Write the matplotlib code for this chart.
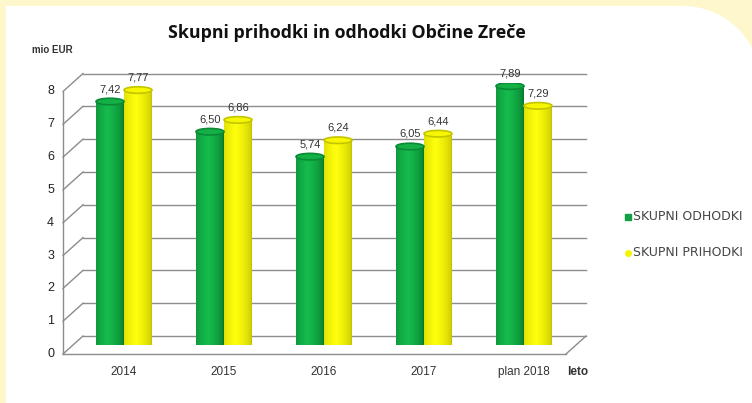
import numpy as np
import matplotlib
matplotlib.use("Agg")
import matplotlib.pyplot as plt
from matplotlib.patches import Ellipse, PathPatch
from matplotlib.path import Path
from matplotlib.lines import Line2D

# ---- data ----
categories = ["2014", "2015", "2016", "2017", "plan 2018"]
odhodki = [7.42, 6.50, 5.74, 6.05, 7.89]      # SKUPNI ODHODKI (green)
prihodki = [7.77, 6.86, 6.24, 6.44, 7.29]     # SKUPNI PRIHODKI (yellow)
series_names = ["SKUPNI ODHODKI", "SKUPNI PRIHODKI"]
yticks = [0, 1, 2, 3, 4, 5, 6, 7, 8]
title = "Skupni prihodki in odhodki Občine Zreče"

W, H, DPI = 752, 403, 100
fig = plt.figure(figsize=(W / DPI, H / DPI), dpi=DPI)
fig.patch.set_facecolor("#FEF7CB")

# white panel with rounded top-right corner (pixel coordinates)
R = 78
cx, cy = 683, H - 6 - R
ang = np.linspace(np.pi / 2, 0, 30)
verts = [(6, -20), (6, H - 6), (cx, H - 6)]
verts += [(cx + R * np.cos(a), cy + R * np.sin(a)) for a in ang]
verts += [(cx + R, -20), (6, -20)]
codes = [Path.MOVETO] + [Path.LINETO] * (len(verts) - 2) + [Path.CLOSEPOLY]
panel = PathPatch(Path(verts, codes), transform=None, facecolor="white",
                  edgecolor="none", zorder=-5)
fig.add_artist(panel)

ax = fig.add_axes([73 / W, 58 / H, 503 / W, 262.5 / H], zorder=2)
ax.set_xlim(-0.51, 4.52)
ax.set_ylim(0, 8)
ax.axis("off")

DX, DY = 10, 9  # half depth offsets in pixels
GRID = "#8c8c8c"


def px(x, y):
    return ax.transData.transform((x, y))


def line_px(p0, p1, **kw):
    l = Line2D([p0[0], p1[0]], [p0[1], p1[1]], transform=None, **kw)
    fig.add_artist(l)


xmin, xmax = ax.get_xlim()
for yv in yticks:
    a = px(xmin, yv)
    b = px(xmax, yv)
    line_px((a[0] + DX, a[1] + DY), (b[0] + DX, b[1] + DY), color=GRID, lw=1.0, zorder=1)
    line_px((a[0] - DX, a[1] - DY), (a[0] + DX, a[1] + DY), color=GRID, lw=1.0, zorder=1)
    fig.text((a[0] - DX - 9) / W, (a[1] - DY) / H, str(yv), ha="right", va="center",
             fontsize=9, color="#222222", family="Liberation Sans")

a0 = px(xmin, 0); a8 = px(xmin, 8)
line_px((a0[0] - DX, a0[1] - DY), (a8[0] - DX, a8[1] - DY), color=GRID, lw=1.0, zorder=1)
b0 = px(xmax, 0)
line_px((a0[0] - DX, a0[1] - DY), (b0[0] - DX, b0[1] - DY), color=GRID, lw=1.0, zorder=1)
line_px((b0[0] - DX, b0[1] - DY), (b0[0] + DX, b0[1] + DY), color=GRID, lw=1.0, zorder=1)

# cylinders
bw = 0.28
eh = 0.2
x = np.arange(len(categories))
styles = [
    dict(dark=np.array([0.03, 0.45, 0.17]), light=np.array([0.08, 0.74, 0.30]),
         top="#14b046", rim="#0b8a36"),
    dict(dark=np.array([0.75, 0.75, 0.0]), light=np.array([1.0, 1.0, 0.05]),
         top="#f6f600", rim="#c4c400"),
]


def gradient(st, n=64):
    t = np.linspace(0, 1, n)
    k = np.clip(1 - np.abs(t - 0.42) / 0.58, 0, 1) ** 0.5
    cols = st["dark"][None, :] * (1 - k[:, None]) + st["light"][None, :] * k[:, None]
    return cols[None, :, :]


for si, (vals, off) in enumerate([(odhodki, -bw / 2), (prihodki, bw / 2)]):
    st = styles[si]
    bars = ax.bar(x + off, vals, width=bw, color="none", edgecolor="none", zorder=3)
    for rect, v in zip(bars, vals):
        xc = rect.get_x() + rect.get_width() / 2
        ax.add_patch(Ellipse((xc, 0), bw, eh, facecolor=st["rim"], edgecolor="none", zorder=3))
        ax.imshow(gradient(st), extent=(rect.get_x(), rect.get_x() + bw, 0, v),
                  aspect="auto", zorder=4, interpolation="bilinear")
        ax.add_patch(Ellipse((xc, v), bw, eh, facecolor=st["top"], edgecolor=st["rim"],
                             lw=1.2, zorder=5))
        ax.annotate(f"{v:.2f}".replace(".", ","), (xc, v), xytext=(0, 9),
                    textcoords="offset points", ha="center", va="center",
                    fontsize=8, color="#333333", family="Liberation Sans", zorder=6)
ax.set_xlim(-0.51, 4.52)
ax.set_ylim(0, 8)

for xi, c in zip(x, categories):
    p = px(xi, 0)
    fig.text(p[0] / W, 31 / H, c, ha="center", va="center", fontsize=8.5,
             color="#333333", family="Liberation Sans")
fig.text(578 / W, 31 / H, "leto", ha="center", va="center", fontsize=8.5,
         color="#333333", family="Liberation Sans", weight="bold")

fig.text(32 / W, (H - 50) / H, "mio EUR", ha="left", va="center", fontsize=7,
         color="#333333", family="Liberation Sans", weight="bold")

fig.text(347 / W, (H - 33) / H, title, ha="center", va="center", fontsize=12.8,
         color="#111111", family="Open Sans", weight="bold")

leg_y = [H - 217, H - 253]
leg_col = ["#12a047", "#f5f500"]
leg_mk = ["s", "o"]
for yy, cname, colr, mk in zip(leg_y, series_names, leg_col, leg_mk):
    fig.add_artist(Line2D([628 / W], [yy / H], transform=fig.transFigure, marker=mk,
                          markersize=4, color=colr, linestyle="none"))
    fig.text(633 / W, yy / H, cname, ha="left", va="center", fontsize=9,
             color="#444444", family="DejaVu Sans")

fig.savefig("out.png", dpi=DPI)
